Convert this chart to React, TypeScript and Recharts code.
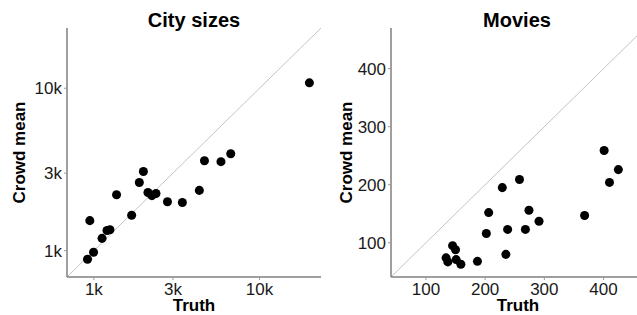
import React from "react";
import { ScatterChart, Scatter, XAxis, YAxis, ZAxis, ReferenceLine, Label } from "recharts";

const cityTruth = [20000, 6700, 5850, 4650, 4330, 3420, 2780, 2370, 2240, 2120, 1990, 1880, 1370, 1690, 1250, 1200, 1120, 945, 995, 915];
const cityCrowd = [10800, 3950, 3530, 3580, 2350, 1980, 2000, 2250, 2180, 2280, 3070, 2630, 2210, 1650, 1345, 1330, 1190, 1530, 977, 885];
const cityTicks = [1000, 3000, 10000];
const cityDomain = [688, 23500];

const movieTruth = [401, 425, 410, 368, 258, 229, 274, 206, 291, 238, 268, 202, 235, 145, 150, 134, 137, 151, 159, 187];
const movieCrowd = [259, 226, 204, 147, 209, 195, 156, 152, 137, 123, 123, 116, 80, 95, 88, 74, 67, 71, 63, 68];
const movieTicks = [100, 200, 300, 400];
const movieDomain = [41, 470];

const titles = ["City sizes", "Movies"];

const cityData = cityTruth.map((t, i) => ({ x: t, y: cityCrowd[i] }));
const movieData = movieTruth.map((t, i) => ({ x: t, y: movieCrowd[i] }));

const FONT = '"Liberation Sans", Arial, Helvetica, sans-serif';
const tickStyle = { fontSize: 17, fill: "#1a1a1a", fontFamily: FONT };
const axisLine = { stroke: "#7f7f7f", strokeWidth: 1.5 };
const tickLine = { stroke: "#9a9a9a", strokeWidth: 1 };
const labelStyle = { fontSize: 17, fontWeight: 700, fill: "#000", fontFamily: FONT, textAnchor: "middle" as const };

function Panel(props: {
  data: { x: number; y: number }[];
  log: boolean;
  ticks: number[];
  domain: number[];
  width: number;
  yAxisWidth: number;
  rightMargin: number;
  yLabelOffset: number;
  fmt: (v: number) => string;
}) {
  const { data, log, ticks, domain, width, yAxisWidth, rightMargin, yLabelOffset, fmt } = props;
  return (
    <ScatterChart width={width} height={315} margin={{ top: 28, right: rightMargin, bottom: 0, left: 0 }}>
      <XAxis
        type="number"
        dataKey="x"
        scale={log ? "log" : "linear"}
        domain={domain}
        allowDataOverflow
        ticks={ticks}
        tickFormatter={fmt}
        height={38}
        tickSize={3}
        tickMargin={3}
        axisLine={axisLine}
        tickLine={tickLine}
        tick={tickStyle}
        interval={0}
      >
        <Label value="Truth" position="insideBottom" offset={4} style={labelStyle} />
      </XAxis>
      <YAxis
        type="number"
        dataKey="y"
        scale={log ? "log" : "linear"}
        domain={domain}
        allowDataOverflow
        ticks={ticks}
        tickFormatter={fmt}
        width={yAxisWidth}
        tickSize={3}
        tickMargin={2}
        axisLine={axisLine}
        tickLine={tickLine}
        tick={tickStyle}
        interval={0}
      >
        <Label value="Crowd mean" angle={-90} position="insideLeft" offset={yLabelOffset} style={labelStyle} />
      </YAxis>
      <ZAxis range={[34, 34]} />
      <ReferenceLine
        segment={[{ x: domain[0], y: domain[0] }, { x: domain[1], y: domain[1] }]}
        stroke="#c4c4c4"
        strokeWidth={1}
        ifOverflow="hidden"
      />
      <Scatter data={data} fill="#000" shape="circle" isAnimationActive={false} />
    </ScatterChart>
  );
}

export default function App() {
  return (
    <div style={{ position: "absolute", left: 0, top: 0, width: 637, height: 315, overflow: "hidden", background: "#fff" }}>
      <div style={{ position: "absolute", left: 0, top: 0 }}>
        <Panel
          data={cityData}
          log={true}
          ticks={cityTicks}
          domain={cityDomain}
          width={330}
          yAxisWidth={67}
          rightMargin={9}
          yLabelOffset={19}
          fmt={(v) => `${Math.round(v / 1000)}k`}
        />
      </div>
      <div style={{ position: "absolute", left: 320, top: 0 }}>
        <Panel
          data={movieData}
          log={false}
          ticks={movieTicks}
          domain={movieDomain}
          width={340}
          yAxisWidth={71}
          rightMargin={15}
          yLabelOffset={26}
          fmt={(v) => `${v}`}
        />
      </div>
      <svg width={637} height={315} style={{ position: "absolute", left: 0, top: 0, pointerEvents: "none" }}>
        <text x={194} y={27} textAnchor="middle" fontFamily={FONT} fontWeight={700} fontSize={20} fill="#000">
          {titles[0]}
        </text>
        <text x={517} y={27} textAnchor="middle" fontFamily={FONT} fontWeight={700} fontSize={20} fill="#000">
          {titles[1]}
        </text>
      </svg>
    </div>
  );
}
